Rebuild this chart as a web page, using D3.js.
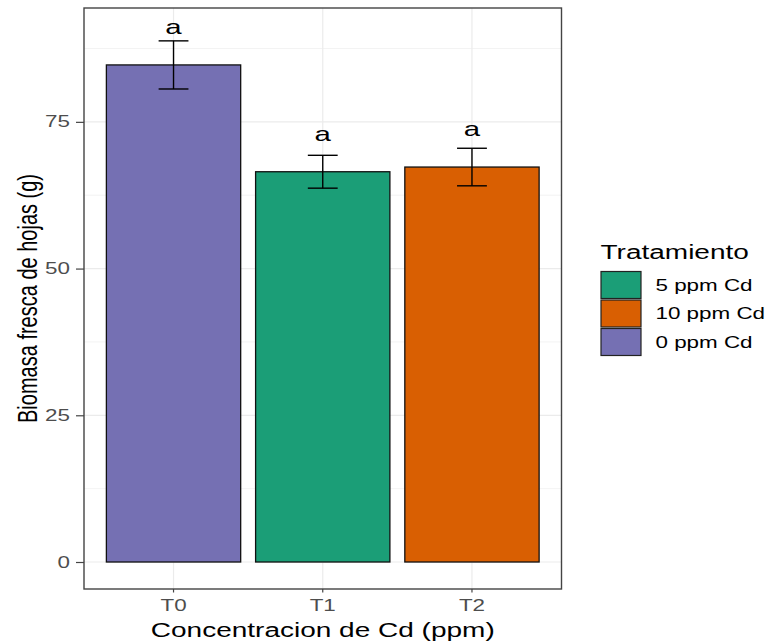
<!DOCTYPE html>
<html>
<head>
<meta charset="utf-8">
<script src="https://cdn.jsdelivr.net/npm/d3@7"></script>
<style>
  body { margin: 0; background: #fff; }
  text { font-family: "Liberation Sans", Arial, sans-serif; }
</style>
</head>
<body>
<div id="chart"></div>
<script>
// values
const categories = ["T0", "T1", "T2"];
const treatment = ["0 ppm Cd", "5 ppm Cd", "10 ppm Cd"];
const means = [84.7, 66.5, 67.3];
const se = [4.1, 2.8, 3.2];
const letters = ["a", "a", "a"];
const letterPos = [91.2, 73.0, 73.8];
const legendOrder = ["5 ppm Cd", "10 ppm Cd", "0 ppm Cd"];
const yTicks = [0, 25, 50, 75];
const yMinor = [12.5, 37.5, 62.5, 87.5];

const colors = {"5 ppm Cd": "#1B9E77", "10 ppm Cd": "#D95F02", "0 ppm Cd": "#7570B3"};
const sx = 1.4; // picture is stretched horizontally

const width = 770, height = 644;
const panel = {left: 84, right: 561.5, top: 8, bottom: 589};

const data = categories.map((c, i) => ({
  cat: c, trt: treatment[i], mean: means[i], se: se[i], lab: letters[i], labY: letterPos[i]
}));

const svg = d3.select("#chart")
  .append("svg")
    .attr("width", width)
    .attr("height", height);

const x = d3.scaleBand()
    .domain(categories)
    .range([panel.left, panel.right])
    .paddingInner(0.1)
    .paddingOuter(0.15);

const y = d3.scaleLinear()
    .domain([-4.6, 94.4])
    .range([panel.bottom, panel.top]);

const st = (px, py) => `translate(${px},${py}) scale(${sx},1)`;

// grid
svg.selectAll(".minor")
  .data(yMinor)
  .enter().append("line")
    .attr("x1", panel.left).attr("x2", panel.right)
    .attr("y1", d => y(d)).attr("y2", d => y(d))
    .attr("stroke", "#EBEBEB").attr("stroke-width", 0.6);

svg.selectAll(".major")
  .data(yTicks)
  .enter().append("line")
    .attr("x1", panel.left).attr("x2", panel.right)
    .attr("y1", d => y(d)).attr("y2", d => y(d))
    .attr("stroke", "#EBEBEB").attr("stroke-width", 1.2);

svg.selectAll(".vgrid")
  .data(categories)
  .enter().append("line")
    .attr("x1", d => x(d) + x.bandwidth() / 2).attr("x2", d => x(d) + x.bandwidth() / 2)
    .attr("y1", panel.top).attr("y2", panel.bottom)
    .attr("stroke", "#EBEBEB").attr("stroke-width", 1.2);

// bars
svg.selectAll(".bar")
  .data(data)
  .enter().append("rect")
    .attr("x", d => x(d.cat))
    .attr("y", d => y(d.mean))
    .attr("width", x.bandwidth())
    .attr("height", d => y(0) - y(d.mean))
    .attr("fill", d => colors[d.trt])
    .attr("stroke", "#111")
    .attr("stroke-width", 1.3);

// error bars
const capW = x.step() * 0.2;
const eb = svg.selectAll(".err")
  .data(data)
  .enter().append("g")
    .attr("stroke", "#000")
    .attr("stroke-width", 1.4);
eb.append("line")
    .attr("x1", d => x(d.cat) + x.bandwidth() / 2).attr("x2", d => x(d.cat) + x.bandwidth() / 2)
    .attr("y1", d => y(d.mean - d.se)).attr("y2", d => y(d.mean + d.se));
eb.append("line")
    .attr("x1", d => x(d.cat) + x.bandwidth() / 2 - capW / 2).attr("x2", d => x(d.cat) + x.bandwidth() / 2 + capW / 2)
    .attr("y1", d => y(d.mean + d.se)).attr("y2", d => y(d.mean + d.se));
eb.append("line")
    .attr("x1", d => x(d.cat) + x.bandwidth() / 2 - capW / 2).attr("x2", d => x(d.cat) + x.bandwidth() / 2 + capW / 2)
    .attr("y1", d => y(d.mean - d.se)).attr("y2", d => y(d.mean - d.se));

// letters
svg.selectAll(".lab")
  .data(data)
  .enter().append("text")
    .attr("transform", d => st(x(d.cat) + x.bandwidth() / 2, y(d.labY)))
    .attr("dy", "0.35em")
    .attr("text-anchor", "middle")
    .attr("font-size", 21)
    .attr("fill", "#000")
    .text(d => d.lab);

// panel border
svg.append("rect")
    .attr("x", panel.left).attr("y", panel.top)
    .attr("width", panel.right - panel.left)
    .attr("height", panel.bottom - panel.top)
    .attr("fill", "none")
    .attr("stroke", "#444")
    .attr("stroke-width", 1.4);

// axes
const yAxis = svg.append("g")
    .attr("transform", `translate(${panel.left},0)`)
    .call(d3.axisLeft(y).tickValues(yTicks).tickSize(8));
yAxis.select(".domain").remove();
yAxis.selectAll("line").attr("stroke", "#444").attr("stroke-width", 1.2);
yAxis.selectAll("text")
    .attr("x", null)
    .attr("transform", st(-14, 0))
    .attr("font-size", 16)
    .attr("fill", "#4D4D4D");

const xAxis = svg.append("g")
    .attr("transform", `translate(0,${panel.bottom})`)
    .call(d3.axisBottom(x).tickSize(3.5));
xAxis.select(".domain").remove();
xAxis.selectAll("line").attr("stroke", "#444").attr("stroke-width", 1.2);
xAxis.selectAll("text")
    .attr("y", null)
    .attr("dy", null)
    .attr("transform", st(0, 22))
    .attr("font-size", 16)
    .attr("fill", "#4D4D4D");

// axis titles
svg.append("text")
    .attr("transform", st((panel.left + panel.right) / 2, 636.5))
    .attr("text-anchor", "middle")
    .attr("font-size", 20)
    .text("Concentracion de Cd (ppm)");

svg.append("text")
    .attr("transform", `translate(36.5,${(panel.top + panel.bottom) / 2}) scale(${sx},1) rotate(-90)`)
    .attr("text-anchor", "middle")
    .attr("font-size", 20)
    .text("Biomasa fresca de hojas (g)");

// legend
const legend = svg.append("g");
legend.append("text")
    .attr("transform", st(600.5, 259))
    .attr("font-size", 20)
    .text("Tratamiento");

const keyH = 28.5;
const items = legend.selectAll(".key")
  .data(legendOrder)
  .enter().append("g")
    .attr("transform", (d, i) => `translate(600.5,${271 + i * keyH})`);
items.append("rect")
    .attr("x", 0.5).attr("y", 0.5)
    .attr("width", 40).attr("height", keyH - 1.5)
    .attr("fill", d => colors[d])
    .attr("stroke", "#222")
    .attr("stroke-width", 1.2);
items.append("text")
    .attr("transform", st(55, keyH / 2))
    .attr("dy", "0.35em")
    .attr("font-size", 16)
    .text(d => d);
</script>
</body>
</html>
